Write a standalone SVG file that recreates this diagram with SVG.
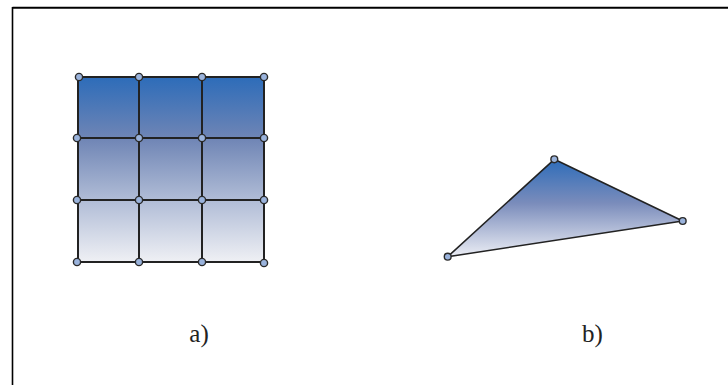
<svg xmlns="http://www.w3.org/2000/svg" width="728" height="385" viewBox="0 0 728 385">
<defs>
<linearGradient id="gGrid" gradientUnits="userSpaceOnUse" x1="0" y1="77" x2="0" y2="263">
<stop offset="0" stop-color="#2d6cb9"/>
<stop offset="0.33" stop-color="#6f85b5"/>
<stop offset="0.66" stop-color="#b0bcd6"/>
<stop offset="1" stop-color="#f0f1f5"/>
</linearGradient>
<linearGradient id="gTri" gradientUnits="userSpaceOnUse" x1="0" y1="159" x2="0" y2="257">
<stop offset="0" stop-color="#2d6cb9"/>
<stop offset="0.45" stop-color="#7a8cbb"/>
<stop offset="1" stop-color="#eceef5"/>
</linearGradient>
</defs>
<style>
.frame{fill:none;stroke:#000;}
.edge{fill:none;stroke:#222;stroke-width:2;stroke-linejoin:round;}
.node{fill:#9ab3dc;stroke:#2a2a2a;stroke-width:1.4;}
.lbl{font-family:"Liberation Serif","Times New Roman",serif;font-size:25px;fill:#222;text-anchor:middle;}
</style>
<rect width="728" height="385" fill="#fff"/>
<line class="frame" x1="12.5" y1="7.7" x2="728" y2="7.7" stroke-width="2"/>
<line class="frame" x1="12.5" y1="7" x2="12.5" y2="385" stroke-width="1.6"/>

<g id="grid">
<rect x="78" y="77" width="186" height="185" fill="url(#gGrid)"/>
<g id="grid-lines">
<polyline class="edge" points="78,77 264,77"/>
<polyline class="edge" points="78,138 264,138"/>
<polyline class="edge" points="78,200 264,200"/>
<polyline class="edge" points="78,262 264,262"/>
<polyline class="edge" points="78,77 78,262"/>
<polyline class="edge" points="139,77 139,262"/>
<polyline class="edge" points="202,77 202,262"/>
<polyline class="edge" points="264,77 264,262"/>
</g>
<g id="grid-nodes">
<circle class="node" cx="79" cy="77" r="3.6"/>
<circle class="node" cx="139" cy="77" r="3.6"/>
<circle class="node" cx="202" cy="77" r="3.6"/>
<circle class="node" cx="264" cy="77" r="3.6"/>
<circle class="node" cx="77" cy="138" r="3.6"/>
<circle class="node" cx="139" cy="138" r="3.6"/>
<circle class="node" cx="202" cy="138" r="3.6"/>
<circle class="node" cx="264" cy="138" r="3.6"/>
<circle class="node" cx="77" cy="200" r="3.6"/>
<circle class="node" cx="139" cy="200" r="3.6"/>
<circle class="node" cx="202" cy="200" r="3.6"/>
<circle class="node" cx="264" cy="200" r="3.6"/>
<circle class="node" cx="77" cy="262" r="3.6"/>
<circle class="node" cx="139" cy="262" r="3.6"/>
<circle class="node" cx="202" cy="262" r="3.6"/>
<circle class="node" cx="264" cy="263" r="3.6"/>
</g>
</g>

<g id="triangle">
<polygon points="554.3,159.3 682.7,221 447.7,256.7" fill="url(#gTri)" stroke="#222" stroke-width="1.6" stroke-linejoin="round"/>
<circle class="node" cx="554.3" cy="159.3" r="3.4"/>
<circle class="node" cx="682.7" cy="221" r="3.4"/>
<circle class="node" cx="447.7" cy="256.7" r="3.4"/>
</g>

<g id="labels">
<text class="lbl" x="199" y="342">a)</text>
<text class="lbl" x="592.5" y="342">b)</text>
</g>
</svg>
